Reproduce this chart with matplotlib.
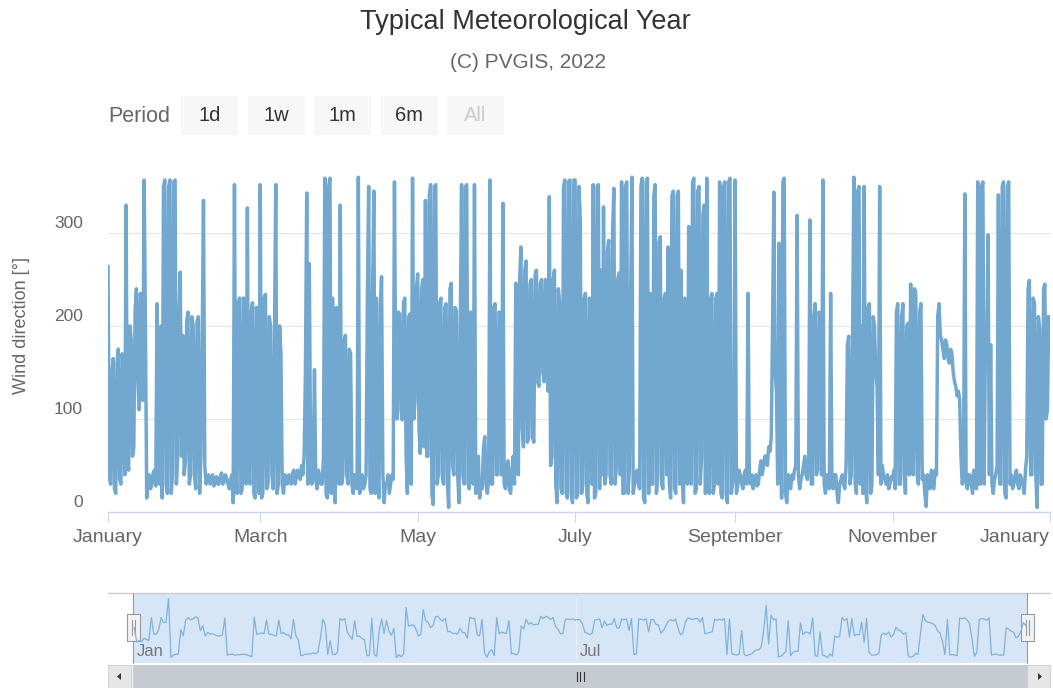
import numpy as np
import pandas as pd
import matplotlib
matplotlib.use("Agg")
import matplotlib.pyplot as plt
import matplotlib.dates as mdates
from matplotlib.patches import Rectangle, Polygon
from matplotlib.transforms import ScaledTranslation, blended_transform_factory

plt.rcParams['font.family'] = ['Liberation Sans', 'DejaVu Sans']

# ---------------- data (wind direction in degrees) ----------------
# values at 00:00 of each day
wind_jan_00h = [264, 30, 165, 20, 175, 30, 150, 330, 45, 185,
                70, 240, 110, 230, 357, 15, 40, 30, 45, 224,
                30, 15, 357, 20, 357, 40, 357, 60, 258, 190,
                55]
wind_feb_00h = [215, 40, 200, 25, 210, 60, 335, 30, 40, 35,
                28, 38, 30, 42, 33, 36, 25, 40, 352, 20,
                230, 25, 220, 327, 30, 225, 15, 210]
wind_mar_00h = [352, 20, 234, 30, 200, 25, 352, 30, 170, 20,
                35, 40, 30, 45, 38, 42, 50, 60, 343, 267,
                30, 153, 25, 40, 30, 359, 15, 359, 230, 10,
                170]
wind_apr_00h = [330, 40, 190, 30, 170, 20, 35, 360, 30, 25,
                40, 350, 20, 345, 230, 15, 253, 10, 30, 20,
                40, 355, 100, 213, 99, 230, 20, 213, 359, 120]
wind_may_00h = [256, 63, 250, 335, 60, 352, 8, 352, 40, 230,
                30, 224, 5, 246, 40, 216, 10, 352, 30, 352,
                25, 200, 352, 30, 15, 25, 81, 20, 357, 30,
                224]
wind_jun_00h = [40, 213, 332, 25, 55, 20, 60, 246, 40, 285,
                70, 270, 80, 250, 75, 260, 135, 250, 140, 242,
                339, 60, 260, 10, 224, 20, 357, 15, 357, 10]
wind_jul_00h = [357, 20, 314, 30, 235, 10, 224, 352, 20, 352,
                260, 328, 40, 292, 30, 348, 50, 257, 355, 20,
                355, 45, 360, 30, 45, 25, 359, 10, 359, 235,
                30]
wind_aug_00h = [352, 40, 296, 25, 235, 285, 15, 345, 20, 345,
                260, 10, 224, 307, 30, 359, 25, 350, 60, 330,
                359, 20, 235, 30, 235, 355, 15, 355, 10, 359,
                30]
wind_sep_00h = [357, 30, 40, 25, 45, 235, 30, 25, 40, 30,
                55, 50, 60, 70, 81, 344, 130, 289, 15, 359,
                10, 30, 40, 45, 319, 25, 40, 60, 35, 314]
wind_oct_00h = [30, 224, 45, 206, 357, 20, 30, 235, 25, 40,
                10, 35, 30, 50, 189, 40, 360, 20, 350, 200,
                350, 10, 224, 30, 200, 135, 350, 50, 35, 40,
                30]
wind_nov_00h = [35, 25, 224, 30, 224, 20, 203, 245, 40, 235,
                30, 224, 40, 6, 30, 45, 25, 40, 224, 185,
                165, 180, 160, 170, 140, 125, 120, 30, 342, 25]
wind_dec_00h = [40, 20, 35, 355, 30, 355, 189, 298, 180, 20,
                40, 341, 30, 355, 15, 355, 40, 30, 45, 25,
                35, 20, 60, 249, 40, 224, 5, 196, 30, 245,
                110]

# values at 12:00 of each day
wind_jan_12h = [40, 150, 25, 160, 35, 170, 40, 60, 200, 60,
                215, 150, 235, 120, 200, 30, 25, 42, 28, 60,
                200, 350, 30, 350, 20, 355, 30, 215, 60, 40,
                205]
wind_feb_12h = [30, 210, 40, 205, 20, 180, 50, 35, 30, 40,
                35, 30, 38, 30, 40, 30, 35, 10, 40, 225,
                20, 230, 30, 40, 215, 20, 220, 20]
wind_mar_12h = [15, 230, 25, 210, 40, 180, 20, 200, 30, 40,
                30, 35, 42, 30, 45, 35, 40, 150, 30, 60,
                40, 35, 45, 30, 60, 20, 350, 20, 30, 220,
                30]
wind_apr_12h = [30, 185, 40, 175, 30, 40, 25, 20, 40, 30,
                230, 25, 230, 20, 40, 220, 40, 30, 40, 30,
                35, 120, 215, 110, 225, 60, 210, 30, 100, 240]
wind_may_12h = [90, 240, 70, 60, 340, 20, 350, 30, 225, 40,
                220, 30, 240, 50, 220, 40, 200, 40, 350, 30,
                215, 30, 20, 60, 30, 70, 30, 40, 30, 220,
                40]
wind_jun_12h = [215, 40, 30, 50, 25, 45, 30, 70, 250, 90,
                260, 75, 245, 80, 255, 140, 245, 150, 250, 130,
                50, 250, 30, 240, 25, 350, 20, 355, 20, 357]
wind_jul_12h = [15, 350, 20, 230, 20, 230, 30, 15, 350, 25,
                40, 30, 280, 40, 300, 30, 250, 40, 20, 350,
                20, 230, 20, 40, 30, 350, 15, 355, 20, 30,
                340]
wind_aug_12h = [20, 290, 30, 230, 40, 30, 340, 25, 340, 30,
                40, 230, 30, 40, 355, 20, 345, 30, 320, 20,
                30, 230, 20, 230, 30, 20, 350, 20, 355, 20,
                40]
wind_sep_12h = [20, 45, 30, 40, 30, 40, 40, 35, 28, 45,
                40, 60, 50, 65, 200, 150, 30, 120, 355, 20,
                40, 25, 35, 50, 40, 35, 50, 40, 60, 30]
wind_oct_12h = [210, 40, 215, 40, 30, 40, 25, 30, 40, 20,
                30, 40, 25, 180, 30, 185, 30, 345, 30, 20,
                30, 220, 20, 210, 150, 40, 30, 40, 30, 25,
                38]
wind_nov_12h = [45, 215, 30, 210, 40, 200, 40, 60, 240, 40,
                215, 35, 20, 40, 25, 35, 45, 210, 190, 175,
                185, 165, 175, 150, 135, 130, 60, 40, 30, 40]
wind_dec_12h = [30, 45, 25, 30, 350, 30, 180, 40, 30, 35,
                50, 30, 350, 20, 350, 30, 25, 40, 30, 40,
                30, 45, 240, 40, 230, 40, 210, 30, 240, 100,
                210]

x_tick_dates = ["2022-01-01", "2022-03-01", "2022-05-01", "2022-07-01",
                "2022-09-01", "2022-11-01", "2023-01-01"]
x_tick_labels = ["January", "March", "May", "July", "September", "November", "January"]
y_ticks = [0, 100, 200, 300]
nav_tick_dates = ["2022-01-01", "2022-07-01"]
nav_tick_labels = ["Jan", "Jul"]
buttons = ["1d", "1w", "1m", "6m", "All"]

w00 = np.array(wind_jan_00h + wind_feb_00h + wind_mar_00h + wind_apr_00h + wind_may_00h +
               wind_jun_00h + wind_jul_00h + wind_aug_00h + wind_sep_00h + wind_oct_00h +
               wind_nov_00h + wind_dec_00h, dtype=float)
w12 = np.array(wind_jan_12h + wind_feb_12h + wind_mar_12h + wind_apr_12h + wind_may_12h +
               wind_jun_12h + wind_jul_12h + wind_aug_12h + wind_sep_12h + wind_oct_12h +
               wind_nov_12h + wind_dec_12h, dtype=float)
wind = np.column_stack([w00, w12]).ravel()
times = pd.date_range("2022-01-01 00:00", periods=len(wind), freq="12h")
days = pd.date_range("2022-01-01 12:00", periods=len(w00), freq="D")
daily_mean = (w00 + w12) / 2
x0, x1 = pd.Timestamp("2022-01-01"), pd.Timestamp("2023-01-01")

# ---------------- figure ----------------
W, H = 1053, 688
fig = plt.figure(figsize=(W / 100, H / 100), dpi=100)
fig.patch.set_facecolor("white")


def ax_px(l, t, r, b, **kw):
    return fig.add_axes([l / W, 1 - b / H, (r - l) / W, (b - t) / H], **kw)


chrome = ax_px(0, 0, W, H, zorder=-5)
chrome.set_xlim(0, W)
chrome.set_ylim(H, 0)
chrome.axis("off")

LINE = "#72a8d0"
GRID = "#e6e6e6"
AXIS = "#ccd6eb"

# ---------------- main chart ----------------
ax = ax_px(108, 140, 1050, 512)
ax.set_facecolor("none")
ax.plot(times, wind, color=LINE, lw=2.5, solid_joinstyle="round", zorder=3)
ax.set_xlim(x0, x1)
ax.set_ylim(0, 400)
for s in ["top", "right", "left"]:
    ax.spines[s].set_visible(False)
ax.spines["bottom"].set_color(AXIS)
ax.spines["bottom"].set_linewidth(1)
ax.set_yticks(y_ticks)
ax.set_yticklabels([str(v) for v in y_ticks])
ax.yaxis.grid(True, color=GRID, lw=0.9)
ax.tick_params(axis="y", length=0, pad=18, labelsize=12.5, labelcolor="#666666")
off = ScaledTranslation(0, 11 / 100, fig.dpi_scale_trans)
for lab in ax.get_yticklabels():
    lab.set_transform(lab.get_transform() + off)

ax.set_xticks(mdates.date2num(pd.to_datetime(x_tick_dates)))
ax.set_xticklabels(x_tick_labels)
ax.tick_params(axis="x", length=7, width=0.8, color=AXIS, pad=5,
               labelsize=14, labelcolor="#666666")
xl = ax.get_xticklabels()
xl[-1].set_ha("right")

fig.text(22 / W, 1 - 326 / H, "Wind direction [°]", rotation=90, ha="center",
         va="center", fontsize=13, color="#666666")

# titles
fig.text(525 / W, 1 - 22 / H, "Typical Meteorological Year", ha="center", va="center",
         fontsize=19.5, color="#333333")
fig.text(528 / W, 1 - 62 / H, "(C) PVGIS, 2022", ha="center", va="center",
         fontsize=15, color="#666666")

# range selector
chrome.text(108, 116, "Period", ha="left", va="center", fontsize=15.5, color="#666666")
for i, b in enumerate(buttons):
    bx = 181 + i * 66.5
    chrome.add_patch(Rectangle((bx, 96), 57, 39, facecolor="#f7f7f7", edgecolor="none"))
    chrome.text(bx + 28.5, 115.5, b, ha="center", va="center", fontsize=14.5,
                color="#cccccc" if b == "All" else "#333333")

# ---------------- navigator ----------------
chrome.plot([108, 1050], [593, 593], color="#cccccc", lw=1)
chrome.add_patch(Rectangle((133, 593), 1027 - 133, 70, facecolor="#d7e6f7", edgecolor="none"))
chrome.plot([133, 133], [593, 663], color="#999999", lw=0.8)
chrome.plot([1027, 1027], [593, 663], color="#999999", lw=0.8)

nav = ax_px(133, 598, 1027, 658, zorder=2)
nav.set_facecolor("none")
nav.plot(days, daily_mean, color="#7fb2dd", lw=0.9)
nav.set_xlim(x0, x1)
nav.set_ylim(daily_mean.min(), daily_mean.max())
nav.axis("off")
for d in nav_tick_dates[1:]:
    nav.axvline(pd.Timestamp(d), color="#e8eef6", lw=0.8, zorder=0)
tr = blended_transform_factory(nav.transData, nav.transAxes)
for d, t in zip(nav_tick_dates, nav_tick_labels):
    nav.text(mdates.date2num(pd.Timestamp(d)) + 1.5, 0.1, t, transform=tr, ha="left",
             va="center", fontsize=12, color="#777777")

for hx in (133, 1027):
    chrome.add_patch(Rectangle((hx - 6.5, 614), 13, 27, facecolor="#f2f2f2",
                               edgecolor="#999999", lw=0.8, zorder=5))
    chrome.plot([hx - 1.5, hx - 1.5], [620, 635], color="#999999", lw=0.8, zorder=6)
    chrome.plot([hx + 1.5, hx + 1.5], [620, 635], color="#999999", lw=0.8, zorder=6)

# scrollbar
chrome.add_patch(Rectangle((108, 665), 942, 23, facecolor="#f2f2f2", edgecolor="none"))
chrome.add_patch(Rectangle((108, 665), 23, 23, facecolor="#e6e6e6", edgecolor="#cccccc", lw=0.6))
chrome.add_patch(Rectangle((1027, 665), 23, 23, facecolor="#e6e6e6", edgecolor="#cccccc", lw=0.6))
chrome.add_patch(Polygon([[117, 676.5], [121, 673], [121, 680]], closed=True, facecolor="#333333"))
chrome.add_patch(Polygon([[1042, 676.5], [1038, 673], [1038, 680]], closed=True, facecolor="#333333"))
chrome.add_patch(Rectangle((133, 665), 894, 23, facecolor="#c6cad1", edgecolor="#c6cad1", lw=0.6))
for dx in (-3.5, 0, 3.5):
    chrome.plot([580 + dx, 580 + dx], [672, 681], color="#333333", lw=0.8)

fig.savefig("out.png", dpi=100)
